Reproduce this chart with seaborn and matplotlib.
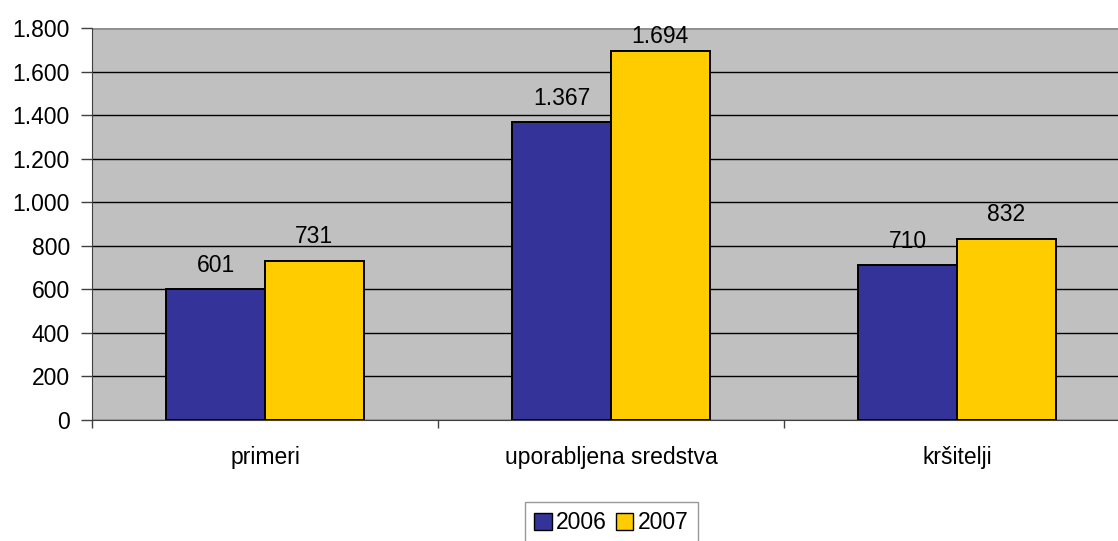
import matplotlib
matplotlib.use("Agg")
import matplotlib.pyplot as plt
from matplotlib.patches import Patch
from matplotlib.ticker import FuncFormatter, FixedLocator
import seaborn as sns
import pandas as pd

categories = ["primeri", "uporabljena sredstva", "kršitelji"]
years = ["2006", "2007"]
values_2006 = [601, 1367, 710]
values_2007 = [731, 1694, 832]
yticks = list(range(0, 1801, 200))

colors = {"2006": "#333399", "2007": "#FFCC00"}

df = pd.DataFrame({
    "kategorija": categories * 2,
    "leto": ["2006"] * 3 + ["2007"] * 3,
    "vrednost": values_2006 + values_2007,
})

sns.set_style("white")
plt.rcParams["font.family"] = ["Liberation Sans", "DejaVu Sans"]
plt.rcParams["text.color"] = "black"
plt.rcParams["xtick.color"] = "black"
plt.rcParams["ytick.color"] = "black"

fs = 16.5
ymax = 1800


def fmt(v):
    return f"{int(v):,}".replace(",", ".")


fig = plt.figure(figsize=(11.18, 5.41), dpi=100)
ax = fig.add_axes([92 / 1118, 1 - 420 / 541, 1038 / 1118, 392 / 541])
ax.set_facecolor("#C0C0C0")

sns.barplot(data=df, x="kategorija", y="vrednost", hue="leto", order=categories,
            hue_order=years, palette=colors, saturation=1, width=0.57,
            edgecolor="black", linewidth=1.4, legend=False, ax=ax, zorder=3)

ax.set_xlim(-0.5, 2.5)
ax.set_ylim(0, ymax)
ax.set_yticks(yticks)
ax.yaxis.set_major_formatter(FuncFormatter(lambda v, p: fmt(v)))
ax.grid(axis="y", color="black", linewidth=1.0, zorder=1)
ax.set_axisbelow(True)

for s in ["top", "right"]:
    ax.spines[s].set_visible(False)
ax.spines["left"].set_color("#404040")
ax.spines["bottom"].set_color("#404040")
ax.axhline(ymax, color="#909090", linewidth=2, zorder=2)

ax.tick_params(axis="y", which="major", direction="out", length=8, width=1,
               color="#404040", labelsize=fs, pad=8, left=True)
ax.xaxis.set_minor_locator(FixedLocator([-0.5, 0.5, 1.5]))
ax.tick_params(axis="x", which="major", length=0, labelsize=fs, pad=19)
ax.tick_params(axis="x", which="minor", direction="out", length=6, width=1,
               color="#404040", bottom=True)
ax.set_xlabel("")
ax.set_ylabel("")

# value labels above bars, pushed down when they would leave the plot area
pts_per_unit = (392 / ymax) * 0.72
for cont in ax.containers:
    for b in cont:
        h = b.get_height()
        room = (ymax - h) * pts_per_unit - 15
        pad = max(2, min(9, room))
        ax.annotate(fmt(h), (b.get_x() + b.get_width() / 2, h), xytext=(0, pad),
                    textcoords="offset points", ha="center", va="bottom", fontsize=fs)

handles = [Patch(facecolor=colors[y], edgecolor="black", label=y) for y in years]
leg = fig.legend(handles=handles, loc="upper center", bbox_to_anchor=(0.547, 1 - 502 / 541),
                 ncol=2, fontsize=fs, frameon=True, fancybox=False, handlelength=0.75,
                 handleheight=0.75, handletextpad=0.2, columnspacing=0.4,
                 borderpad=0.4, borderaxespad=0)
leg.get_frame().set_edgecolor("#808080")
leg.get_frame().set_linewidth(1.0)

fig.savefig("out.png", dpi=100)
